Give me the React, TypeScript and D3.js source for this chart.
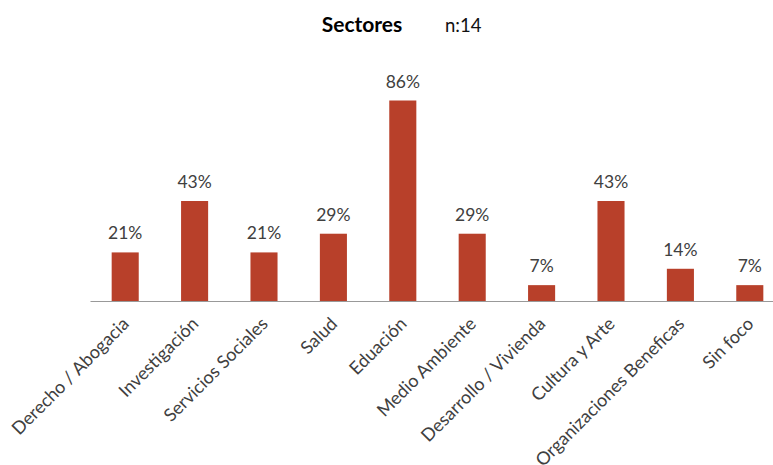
import React from "react";
import * as d3 from "d3";

const categories = [
  "Derecho / Abogacia",
  "Investigación",
  "Servicios Sociales",
  "Salud",
  "Eduación",
  "Medio Ambiente",
  "Desarrollo / Vivienda",
  "Cultura y Arte",
  "Organizaciones Beneficas",
  "Sin foco",
];
const values = [21, 43, 21, 29, 86, 29, 7, 43, 14, 7];
const titleText = "Sectores";
const nText = "n:14";

const W = 773;
const H = 465;
const FONT = "Lato, 'Open Sans', sans-serif";

export default function App() {
  const x = d3
    .scaleBand<string>()
    .domain(categories)
    .range([90.5, 784.5])
    .paddingInner(0.61)
    .paddingOuter(0.305);
  const y = d3.scaleLinear().domain([0, 86]).range([301.5, 100.5]);
  const bw = x.bandwidth();

  return (
    <svg
      width={W}
      height={H}
      style={{ position: "absolute", left: 0, top: 0, background: "#fff" }}
    >
      <text
        x={362}
        y={32}
        textAnchor="middle"
        fontFamily={FONT}
        fontWeight="bold"
        fontSize={21}
        fill="#000"
      >
        {titleText}
      </text>
      <text x={445} y={32} fontFamily={FONT} fontSize={18.5} fill="#111">
        {nText}
      </text>
      {categories.map((c, i) => {
        const cx = (x(c) as number) + bw / 2;
        return (
          <g key={c}>
            <rect
              x={x(c)}
              y={y(values[i])}
              width={bw}
              height={y(0) - y(values[i])}
              fill="#B8402A"
            />
            <text
              x={cx}
              y={y(values[i]) - 13}
              textAnchor="middle"
              fontFamily={FONT}
              fontSize={17.5}
              fill="#404040"
            >
              {values[i]}%
            </text>
            <text
              transform={`translate(${cx + 5},${325}) rotate(-45)`}
              textAnchor="end"
              fontFamily={FONT}
              fontSize={18}
              fill="#404040"
            >
              {c}
            </text>
          </g>
        );
      })}
      <line x1={90.5} x2={W} y1={301.5} y2={301.5} stroke="#999" strokeWidth={1} />
    </svg>
  );
}
